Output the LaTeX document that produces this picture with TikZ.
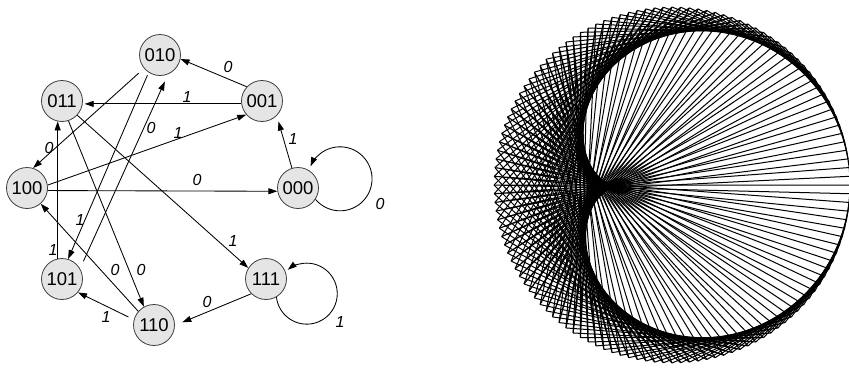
\documentclass[tikz,border=0pt]{standalone}
\usepackage{fontspec}
\setmainfont{Liberation Sans}
\usetikzlibrary{arrows.meta}
\begin{document}
\begin{tikzpicture}[x=1pt,y=-1pt,
  state/.style={circle, draw=black!75, line width=0.8pt, fill=black!10,
    minimum size=41pt, inner sep=0pt, font=\fontsize{18.5}{20}\selectfont},
  edge/.style={line width=0.85pt, -{Triangle[length=9pt,width=6pt]}},
  lab/.style={font=\fontsize{16}{18}\selectfont\itshape, inner sep=0pt},
  chord/.style={line width=1pt}]
\useasboundingbox (0,0) rectangle (849,367);

% de Bruijn graph B(2,3)
\node[state] (n000) at (298,188) {000};
\node[state] (n001) at (262,101) {001};
\node[state] (n010) at (160,55)  {010};
\node[state] (n011) at (62,101)  {011};
\node[state] (n100) at (27,188)  {100};
\node[state] (n101) at (62,279)  {101};
\node[state] (n110) at (154,325) {110};
\node[state] (n111) at (266,279) {111};

\draw[edge] (n001.137) -- (n010.-11);
\draw[edge, shorten >=2pt] (n001.188) -- (n011.-8);
\draw[edge, shorten >=6pt] (n000.107) -- (n001.-45);
\draw[edge, shorten <=7pt] (n010.220) -- (n100.73);
\draw[edge, shorten <=3pt] (n010.237) -- (n101.73);
\draw[edge, shorten <=8pt, shorten >=8pt] (n101.30) -- (n010.-67);
\draw[edge] (n101.102) -- (n011.-102);
\draw[edge] (n011.-72) -- (n110.119);
\draw[edge] (n011.-43) -- (n111.148);
\draw[edge] (n100.8) -- (n001.221);
\draw[edge] (n100.-7) -- (n000.189);
\draw[edge] (n110.139) -- (n100.-49);
\draw[edge, shorten <=6pt] (n110.165) -- (n101.-40);
\draw[edge, shorten >=8pt] (n111.225) -- (n110.-1);
\draw[edge] (n000.-33) arc[start angle=140, end angle=-157, radius=32];
\draw[edge] (n111.-60) arc[start angle=173.5, end angle=-128.5, radius=30.5];

\node[lab] (l01) at (228,67)  {0};
\node[lab] (l02) at (187,97)  {1};
\node[lab] (l03) at (293,139) {1};
\node[lab] (l04) at (49,148)  {0};
\node[lab] (l05) at (80,220)  {1};
\node[lab] (l06) at (151,128) {0};
\node[lab] (l07) at (53,250)  {1};
\node[lab] (l08) at (141,270) {0};
\node[lab] (l09) at (233,241) {1};
\node[lab] (l10) at (178,133) {1};
\node[lab] (l11) at (197,180) {0};
\node[lab] (l12) at (115,270) {0};
\node[lab] (l13) at (106,317) {1};
\node[lab] (l14) at (207,302) {0};
\node[lab] (l15) at (380,204) {0};
\node[lab] (l16) at (340,322) {1};

% chord diagram i -> 2i, 2i+1 (mod 128)
\coordinate (ctr) at (672,185);
\foreach \i in {0,...,127}{
  \pgfmathsetmacro\a{2.8125*\i}
  \pgfmathsetmacro\b{5.625*\i}
  \pgfmathsetmacro\c{5.625*\i+2.8125}
  \draw[chord, shift={(ctr)}] (\a:178) -- (\b:178) (\a:178) -- (\c:178);
}
\end{tikzpicture}
\end{document}
